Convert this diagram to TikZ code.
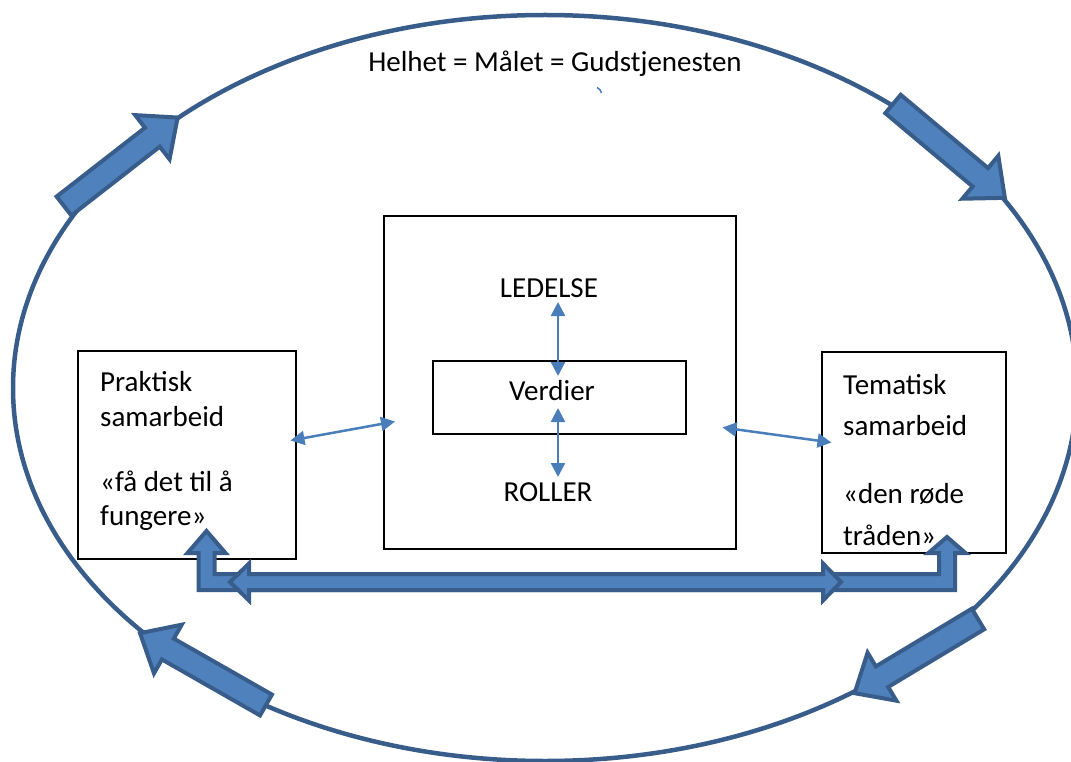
\documentclass[tikz,border=0pt]{standalone}
\usepackage{fontspec}
\setmainfont{Carlito}
\usetikzlibrary{arrows.meta}
\definecolor{rimblue}{HTML}{385D8A}
\definecolor{fillblue}{HTML}{4F81BD}
\definecolor{linkblue}{HTML}{4A7EBB}
\tikzset{
  lbl/.style={font=\fontsize{29}{35}\selectfont, inner sep=0pt},
  box/.style={draw=black, line width=2pt, inner sep=0pt},
  blockarr/.style={draw=rimblue, fill=fillblue, line width=4pt, line join=miter},
  link/.style={draw=linkblue, line width=2.5pt,
    {Triangle[length=14pt,width=14pt]}-{Triangle[length=14pt,width=14pt]}},
}
% block arrow: tail centre (#1,#2), direction #3 (degrees), length #4
\newcommand\blockarrow[4]{%
  \begin{scope}[shift={(#1,#2)}, rotate=#3]
    \filldraw[blockarr] (0,-12) -- ({#4-32},-12) -- ({#4-32},-28) -- (#4,0)
      -- ({#4-32},28) -- ({#4-32},12) -- (0,12) -- cycle;
  \end{scope}}
\begin{document}
\begin{tikzpicture}[x=1pt,y=-1pt]
\useasboundingbox (0,0) rectangle (1071,762);
\clip (0,0) rectangle (1071,762);

% outer whole
\draw[rimblue, line width=4.5pt] (545,388) ellipse [x radius=532, y radius=373];
\node[lbl, anchor=base] (title) at (555,72) {Helhet = Målet = Gudstjenesten};
\draw[linkblue, line width=1.5pt] (597,87.5) to[bend left=25] (601.5,93);

% circulating arrows along the rim
\blockarrow{64}{206}{37.9}{144}
\blockarrow{893}{104}{-40}{146}
\blockarrow{978}{619}{-149}{144}
\blockarrow{266}{705}{150.3}{145}

% boxes
\node[box, minimum width=218pt, minimum height=208pt] (prak) at (187,455) {};
\node[box, minimum width=352pt, minimum height=333pt] (core) at (560,382.5) {};
\node[box, minimum width=253pt, minimum height=73pt] (verdbox) at (559.5,397.5) {};
\node[box, minimum width=184pt, minimum height=201pt] (tema) at (914,452.5) {};

% texts
\node[lbl, anchor=base] (led) at (549,297) {LEDELSE};
\node[lbl, anchor=base] (verd) at (552,400) {Verdier};
\node[lbl, anchor=base] (rol) at (548,501) {ROLLER};

\node[lbl, anchor=base west] (p1) at (100,391) {Praktisk};
\node[lbl, anchor=base west] (p2) at (100,426) {samarbeid};
\node[lbl, anchor=base west] (p3) at (100,491) {«få det til å};
\node[lbl, anchor=base west] (p4) at (100,525) {fungere»};

\node[lbl, anchor=base west] (t1) at (843,394) {Tematisk};
\node[lbl, anchor=base west] (t2) at (843,435) {samarbeid};
\node[lbl, anchor=base west] (t3) at (843,503) {«den røde};
\node[lbl, anchor=base west] (t4) at (843,545) {tråden»};

% thin links
\coordinate (ledlow) at (558,302);
\coordinate (verdtop) at (558,376);
\coordinate (verdlow) at (558,408);
\coordinate (rolltop) at (558,477);
\draw[link] (ledlow) -- (verdtop);
\draw[link] (verdlow) -- (rolltop);

\coordinate (prakin) at (290.5,440.5);
\coordinate (coreleft) at (395,421.5);
\coordinate (coreright) at (722.5,427.5);
\coordinate (temain) at (831.5,442.5);
\draw[link] (prakin) -- (coreleft);
\draw[link] (coreright) -- (temain);

% bottom U-shaped double arrow
\filldraw[blockarr] (206.5,531) -- (225.5,553) -- (214.5,553) -- (214.5,574)
  -- (939,574) -- (939,553) -- (928.5,553) -- (947,537) -- (965.5,553)
  -- (955,553) -- (955,590) -- (198.5,590) -- (198.5,553) -- (187.5,553) -- cycle;
% straight double arrow across it
\filldraw[blockarr] (230,582) -- (249,563.5) -- (249,574) -- (823,574)
  -- (823,563.5) -- (841,582) -- (823,600.5) -- (823,590) -- (249,590)
  -- (249,600.5) -- cycle;
\end{tikzpicture}
\end{document}
